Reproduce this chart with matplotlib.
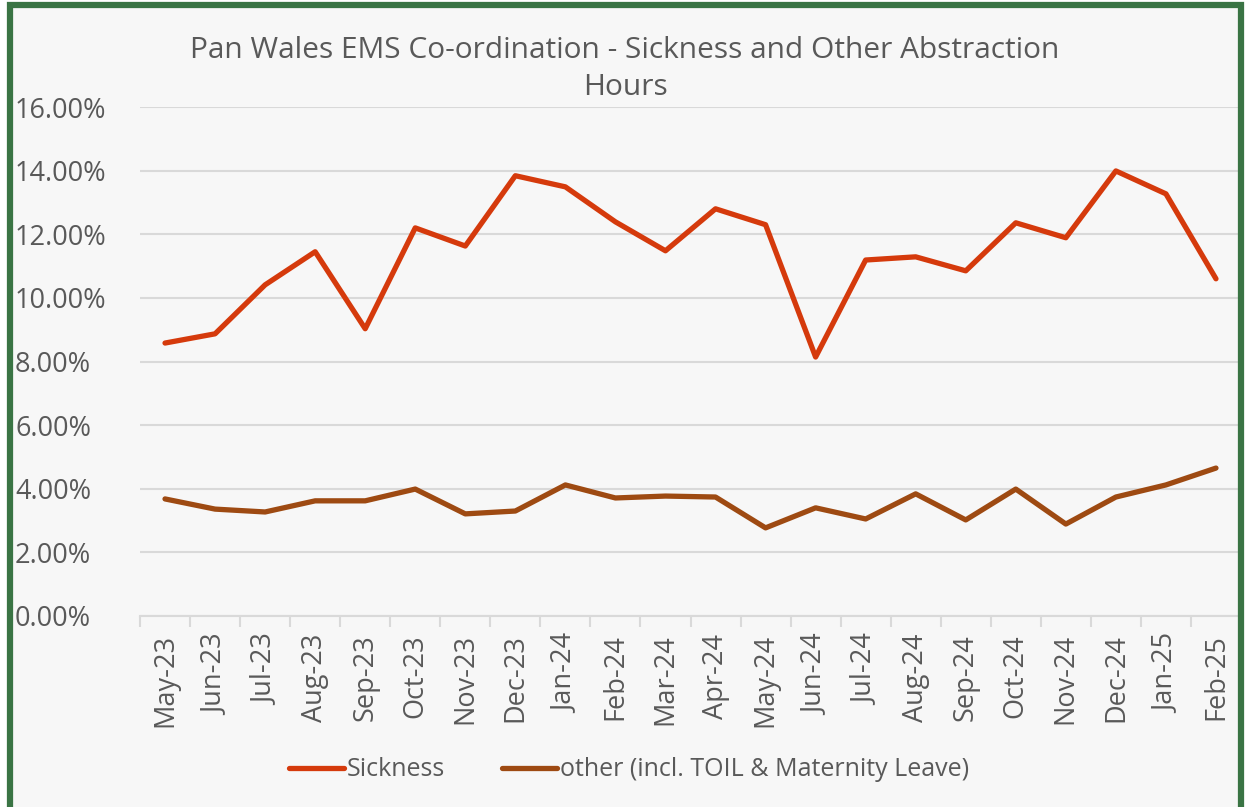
import matplotlib.pyplot as plt
from matplotlib.patches import Rectangle
from matplotlib.ticker import FixedLocator, PercentFormatter
import numpy as np

# dados
meses = ["May-23", "Jun-23", "Jul-23", "Aug-23", "Sep-23", "Oct-23", "Nov-23", "Dec-23",
         "Jan-24", "Feb-24", "Mar-24", "Apr-24", "May-24", "Jun-24", "Jul-24", "Aug-24",
         "Sep-24", "Oct-24", "Nov-24", "Dec-24", "Jan-25", "Feb-25"]
sickness = [8.58, 8.87, 10.41, 11.45, 9.03, 12.20, 11.63, 13.84, 13.49, 12.39, 11.48,
            12.80, 12.30, 8.14, 11.19, 11.29, 10.85, 12.36, 11.89, 13.99, 13.27, 10.60]
other = [3.68, 3.36, 3.27, 3.62, 3.62, 3.99, 3.21, 3.30, 4.12, 3.71, 3.77,
         3.74, 2.77, 3.40, 3.05, 3.84, 3.02, 3.99, 2.89, 3.74, 4.12, 4.65]

titulo = "Pan Wales EMS Co-ordination - Sickness and Other Abstraction\nHours"
nomes = ["Sickness", "other (incl. TOIL & Maternity Leave)"]

cor_texto = "#595959"
cor_grade = "#D9D9D9"
plt.rcParams['font.family'] = ['Open Sans', 'DejaVu Sans']

W, H = 1255, 807
fig = plt.figure(figsize=(W / 100, H / 100), dpi=100, facecolor="white")

# fundo cinza claro com moldura verde
fundo = Rectangle((10 / W, -0.05), 1231 / W, 1.05 - 4.5 / H, transform=fig.transFigure,
                  facecolor="#F7F7F7", edgecolor="none", zorder=-5)
fig.patches.append(fundo)
moldura = Rectangle((10 / W, -0.05), 1231 / W, 1.05 - 4.5 / H, transform=fig.transFigure,
                    facecolor="none", edgecolor="#3A7444", linewidth=4.5, zorder=10)
fig.patches.append(moldura)

ax = fig.add_axes([140 / W, 1 - 616 / H, 1101 / W, (616 - 107) / H])
ax.set_facecolor("none")

x = np.arange(len(meses))
ax.plot(x, np.array(sickness) / 100, color="#D53A0C", lw=3.8, solid_capstyle="round",
        solid_joinstyle="round", label=nomes[0], zorder=3)
ax.plot(x, np.array(other) / 100, color="#9E4A12", lw=3.8, solid_capstyle="round",
        solid_joinstyle="round", label=nomes[1], zorder=3)

ax.set_xlim(-0.5, len(meses) - 0.5)
ax.set_ylim(0, 0.16)
ax.set_yticks(np.arange(0, 0.161, 0.02))
ax.yaxis.set_major_formatter(PercentFormatter(1.0, decimals=2))
ax.grid(axis="y", color=cor_grade, lw=1.5)
ax.set_axisbelow(True)

ax.set_xticks(x)
ax.set_xticklabels(meses, rotation=90)
ax.xaxis.set_minor_locator(FixedLocator(np.arange(-0.5, len(meses), 1)))
ax.tick_params(axis="x", which="major", length=0, pad=13, labelsize=19.5, labelcolor=cor_texto)
ax.tick_params(axis="x", which="minor", length=8, width=1.5, color=cor_grade)
ax.tick_params(axis="y", length=0, labelsize=19.5, labelcolor=cor_texto)
for lado in ["top", "right", "left"]:
    ax.spines[lado].set_visible(False)
ax.spines["bottom"].set_color(cor_grade)
ax.spines["bottom"].set_linewidth(1.5)
for rot in ax.get_yticklabels():
    rot.set_horizontalalignment("left")
ax.yaxis.set_tick_params(pad=125 / 1.389)

fig.text(625 / W, 1 - 69 / H, titulo, ha="center", va="center", fontsize=21.5,
         color=cor_texto, linespacing=1.4)

fig.legend(loc="center", bbox_to_anchor=(629 / W, 1 - 770 / H), ncol=2, frameon=False,
           fontsize=18, labelcolor=cor_texto, handlelength=2.2, handletextpad=0.1,
           columnspacing=2.3)

fig.savefig("out.png", dpi=100, facecolor=fig.get_facecolor())
